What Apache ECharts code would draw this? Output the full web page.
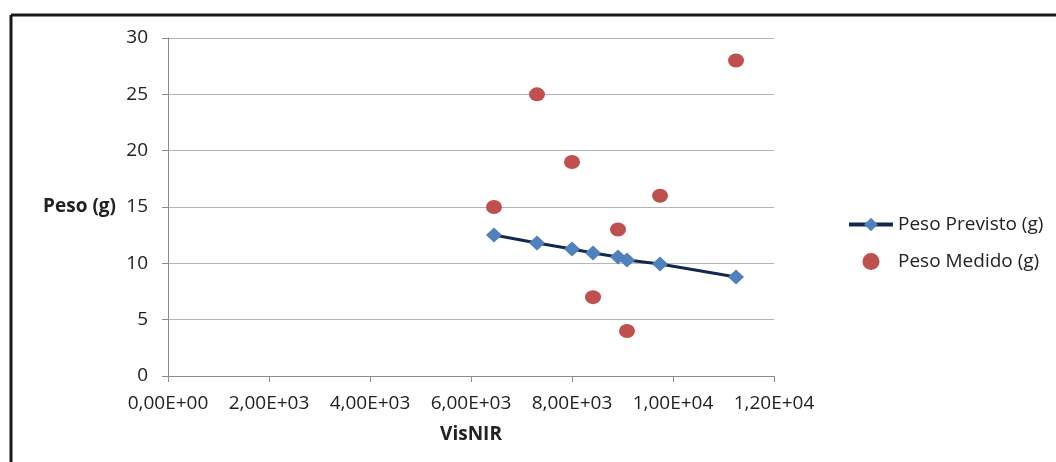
<!DOCTYPE html>
<html>
<head>
<meta charset="utf-8">
<script src="https://cdn.jsdelivr.net/npm/echarts@6/dist/echarts.min.js"></script>
<style>
html,body{margin:0;padding:0;background:#fff;}
#chart{width:1056px;height:462px;}
</style>
</head>
<body>
<div id="chart"></div>
<script>
const visNIR = [6455, 7307, 8000, 8416, 8911, 9089, 9743, 11248];
const pesoPrevisto = [12.51, 11.80, 11.27, 10.91, 10.56, 10.29, 9.94, 8.78];
const pesoMedido = [15, 25, 19, 7, 13, 4, 16, 28];
const seriesNames = ['Peso Previsto (g)', 'Peso Medido (g)'];
const xAxisName = 'VisNIR';
const yAxisName = 'Peso (g)';

function sciLabel(v) {
  let s = Number(v).toExponential(2);
  let parts = s.split('e');
  let mant = parts[0].replace('.', ',');
  let exp = parseInt(parts[1], 10);
  let sign = exp < 0 ? '-' : '+';
  let e = String(Math.abs(exp)).padStart(2, '0');
  return mant + 'E' + sign + e;
}

const FONT = "'Open Sans', 'Noto Sans', sans-serif";
const FS = 19;
const chart = echarts.init(document.getElementById('chart'), null, {renderer: 'canvas'});
chart.setOption({
  animation: false,
  backgroundColor: '#ffffff',
  textStyle: {fontFamily: FONT},
  graphic: [
    {type: 'line', shape: {x1: 11, y1: 15, x2: 1056, y2: 15}, style: {stroke: '#1a1a1a', lineWidth: 3}},
    {type: 'line', shape: {x1: 11, y1: 15, x2: 11, y2: 462}, style: {stroke: '#1a1a1a', lineWidth: 3}}
  ],
  grid: {left: 168, right: 282, top: 38, bottom: 86, containLabel: false},
  legend: {
    orient: 'vertical',
    left: 842,
    top: 210,
    itemWidth: 44,
    itemHeight: 17,
    itemGap: 18,
    lineStyle: {width: 4, color: '#13294B'},
    textStyle: {fontSize: FS, color: '#222', fontFamily: FONT},
    data: [
      {name: seriesNames[0]},
      {name: seriesNames[1], icon: 'circle', itemStyle: {opacity: 1}}
    ]
  },
  xAxis: {
    type: 'value',
    min: 0, max: 12000, interval: 2000,
    name: xAxisName,
    nameLocation: 'middle',
    nameGap: 49,
    nameTextStyle: {fontSize: FS, fontWeight: 'bold', color: '#222', fontFamily: FONT},
    axisLine: {show: true, lineStyle: {color: '#8c8c8c', width: 1}},
    axisTick: {show: true, length: 6, lineStyle: {color: '#8c8c8c'}},
    axisLabel: {fontSize: FS, color: '#222', margin: 18, formatter: sciLabel, fontFamily: FONT},
    splitLine: {show: false}
  },
  yAxis: {
    type: 'value',
    min: 0, max: 30, interval: 5,
    name: yAxisName,
    nameLocation: 'middle',
    nameRotate: 0,
    nameGap: 52,
    nameTextStyle: {fontSize: FS, fontWeight: 'bold', color: '#222', fontFamily: FONT, align: 'right'},
    axisLine: {show: true, lineStyle: {color: '#8c8c8c', width: 1}},
    axisTick: {show: true, length: 6, lineStyle: {color: '#8c8c8c'}},
    axisLabel: {fontSize: FS, color: '#222', margin: 20, fontFamily: FONT},
    splitLine: {show: true, lineStyle: {color: '#b5b5b5', width: 1}}
  },
  series: [
    {
      name: seriesNames[0],
      type: 'line',
      data: visNIR.map((x, i) => [x, pesoPrevisto[i]]),
      symbol: 'diamond',
      symbolSize: [16, 15],
      itemStyle: {color: '#4F81BD'},
      lineStyle: {color: '#13294B', width: 3},
      z: 2
    },
    {
      name: seriesNames[1],
      type: 'scatter',
      data: visNIR.map((x, i) => [x, pesoMedido[i]]),
      symbol: 'circle',
      symbolSize: [16, 14],
      itemStyle: {color: '#C0504D', opacity: 1},
      z: 3
    }
  ]
});
</script>
</body>
</html>
